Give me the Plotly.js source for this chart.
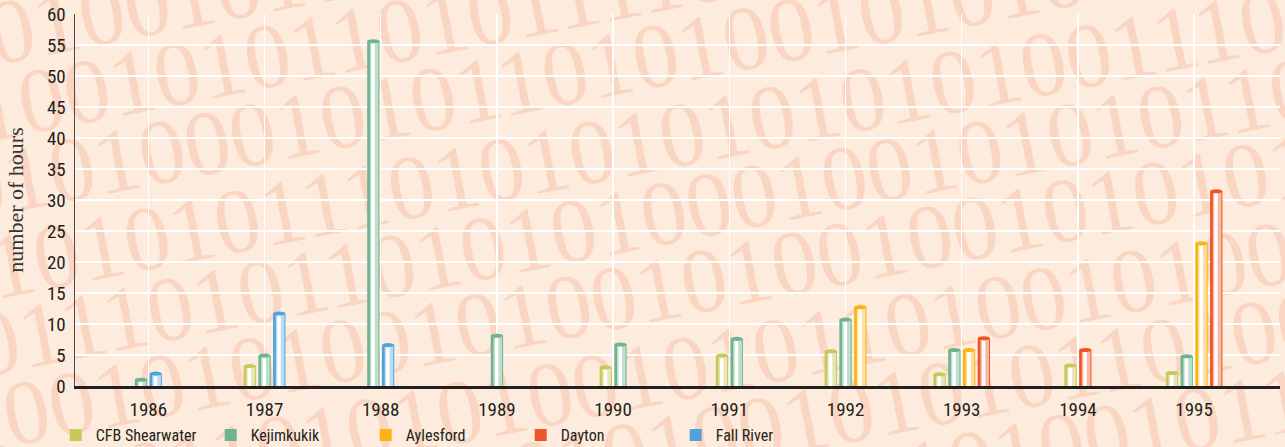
<!DOCTYPE html>
<html>
<head>
<meta charset="utf-8">
<script src="https://cdn.plot.ly/plotly-3.0.1.min.js"></script>
<style>
  body { margin:0; background:#fdecdd; overflow:hidden; }
  #wm { position:absolute; left:0; top:0; width:1285px; height:447px; overflow:hidden; z-index:0; }
  #wm div { position:absolute; white-space:nowrap; font-family:"Liberation Serif","DejaVu Serif",serif; font-size:92px; line-height:92px; color:#fad5c2; transform:rotate(-11deg); transform-origin:0 0; }
  #chart { position:absolute; left:0; top:0; width:1285px; height:447px; z-index:1; }
  #chart .xtick text, #chart .ytick text, #chart .legendtext { font-stretch: condensed; }
</style>
</head>
<body>
<div id="wm"></div>
<div id="chart"></div>
<script>
// ---- data ----
const categories = ['1986','1987','1988','1989','1990','1991','1992','1993','1994','1995'];
const seriesNames = ['CFB Shearwater','Kejimkukik','Aylesford','Dayton','Fall River'];
const cfbShearwater = [null, 3.2, null, null, 3.0, 4.9, 5.6, 1.9, 3.3, 2.1];
const kejimkukik    = [1.0, 4.9, 55.6, 8.1, 6.7, 7.6, 10.7, 5.8, null, 4.8];
const aylesford     = [null, null, null, null, null, null, 12.7, 5.8, null, 23.0];
const dayton        = [null, null, null, null, null, null, null, 7.7, 5.8, 31.4];
const fallRiver     = [2.0, 11.7, 6.6, null, null, null, null, null, null, null];
const yTickVals = [0,5,10,15,20,25,30,35,40,45,50,55,60];
const yTitle = 'number of hours';

// ---- styles ----
const seriesValues = [cfbShearwater, kejimkukik, aylesford, dayton, fallRiver];
const colors = ['#c6c85a', '#6fb48e', '#fbb414', '#ee5428', '#4fa2de'];
const tints  = ['#e6e7b4', '#bfdfcc', '#fde0a0', '#f9b9a2', '#bcdcf4'];

// background watermark (decorative)
const wmRows = [
  '0100101010100101010101010010101',
  '1001010110101111010101000100111',
  '0101000101011010100101010010100',
  '1010101110101010101010100111010',
  '0111010110101010001001010101100',
  '1001010100101001010010010101011',
  '0100110101010010101101001010010',
  '1011001010010101001010101101001',
  '0010101001011010100101010010110',
  '1101001010100101011010010101001'
];
const wm = document.getElementById('wm');
wmRows.forEach((s, k) => {
  const d = document.createElement('div');
  d.textContent = s;
  d.style.left = (-20 - (k % 3) * 15) + 'px';
  d.style.top = (-10 + k * 78) + 'px';
  wm.appendChild(d);
});

// ---- bars: only present series share each category ----
const slot = 0.127, barW = 0.106;
const centerOff = seriesValues.map(() => categories.map(() => null));
categories.forEach((c, i) => {
  const present = [];
  seriesValues.forEach((arr, s) => { if (arr[i] !== null) present.push(s); });
  present.forEach((s, k) => { centerOff[s][i] = (k - (present.length - 1) / 2) * slot; });
});

const traces = [];
const shapes = [];
const layers = [
  {from: 0.0,  to: 1.0,  col: s => colors[s], legend: true},
  {from: 0.22, to: 0.92, col: s => tints[s],  legend: false},
  {from: 0.34, to: 0.62, col: s => '#ffffff', legend: false}
];
seriesValues.forEach((arr, s) => {
  const xs = [], ys = [], offs = [];
  arr.forEach((v, i) => {
    if (v === null) return;
    xs.push(categories[i]); ys.push(v); offs.push(centerOff[s][i] - barW / 2);
    shapes.push({
      type: 'circle', xref: 'x', yref: 'y', layer: 'above',
      x0: i + centerOff[s][i] - barW / 2, x1: i + centerOff[s][i] + barW / 2,
      y0: v - 0.33, y1: v + 0.33,
      fillcolor: colors[s], line: {width: 0}
    });
  });
  layers.forEach(L => {
    traces.push({
      type: 'bar', name: seriesNames[s], x: xs, y: ys,
      offset: offs.map(o => o + L.from * barW),
      width: xs.map(() => (L.to - L.from) * barW),
      marker: {color: L.col(s), line: {width: 0}},
      showlegend: L.legend, legendgroup: seriesNames[s],
      hoverinfo: 'skip'
    });
  });
});

const condensed = 'Roboto Condensed, DejaVu Sans, sans-serif';
const layout = {
  width: 1285, height: 447,
  margin: {l: 75, r: 5, t: 14, b: 61, autoexpand: false},
  paper_bgcolor: 'rgba(0,0,0,0)', plot_bgcolor: 'rgba(0,0,0,0)',
  barmode: 'overlay',
  showlegend: true,
  xaxis: {
    type: 'category', categoryorder: 'array', categoryarray: categories,
    range: [-0.631, 9.739],
    showgrid: true, gridcolor: '#ffffff', gridwidth: 1.5,
    showline: true, linecolor: '#231f20', linewidth: 3,
    ticks: '', tickfont: {family: condensed, size: 19, color: '#231f20'},
    ticklabelstandoff: 4, zeroline: false, fixedrange: true
  },
  yaxis: {
    range: [0, 60], tickvals: yTickVals,
    showgrid: true, gridcolor: '#ffffff', gridwidth: 1.5,
    showline: true, linecolor: '#4a4a4a', linewidth: 1.5,
    ticks: '', tickfont: {family: condensed, size: 19, color: '#231f20'},
    ticklabelstandoff: 4, zeroline: false,
    title: {text: yTitle, font: {family: 'Liberation Serif, DejaVu Serif, serif', size: 22, color: '#333333'}, standoff: 17}
  },
  legend: {
    orientation: 'h', x: -0.016, xanchor: 'left', y: -0.132, yanchor: 'middle',
    font: {family: condensed, size: 16, color: '#231f20'},
    entrywidth: 110, entrywidthmode: 'pixels', bgcolor: 'rgba(0,0,0,0)', traceorder: 'normal'
  },
  shapes: shapes
};

Plotly.newPlot('chart', traces, layout, {displayModeBar: false, staticPlot: true});
</script>
</body>
</html>
